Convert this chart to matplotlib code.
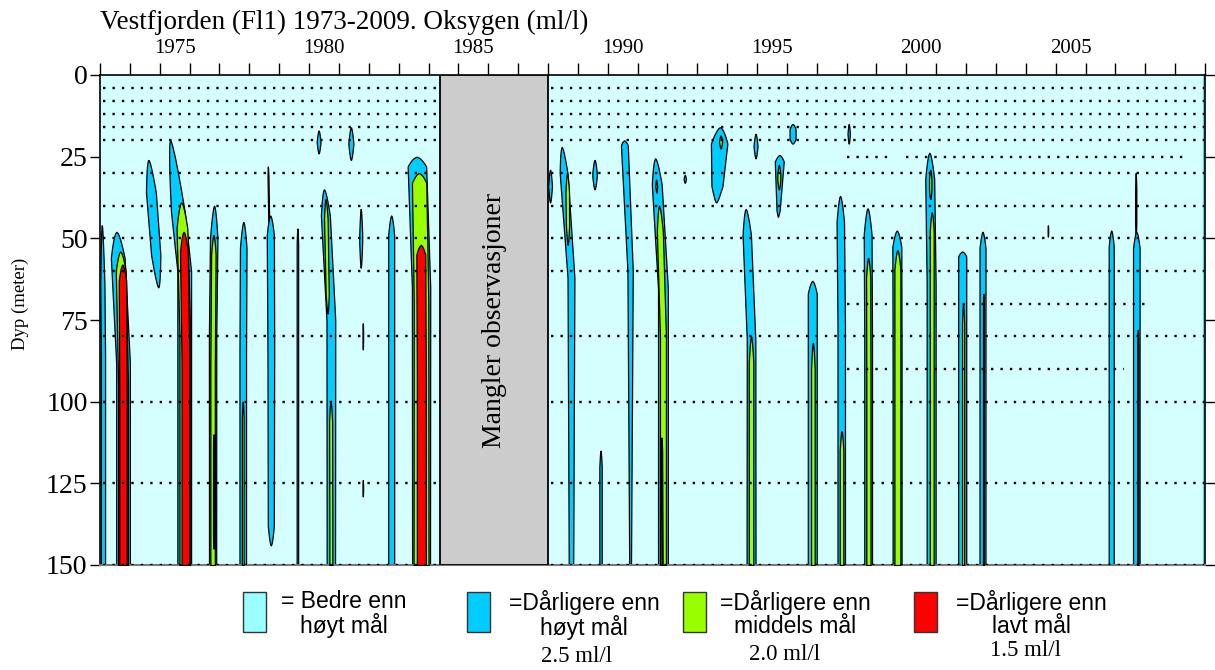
import matplotlib
matplotlib.use('Agg')
import matplotlib.pyplot as plt
import numpy as np
from matplotlib.patches import Rectangle

W, H = 1215, 670
SERIF = ['Liberation Serif', 'DejaVu Serif']
SANS = ['Liberation Sans', 'DejaVu Sans']

# ---------------- data ----------------
title = "Vestfjorden (Fl1) 1973-2009. Oksygen (ml/l)"
year_min, year_max = 1973.0, 2010.0
tick_years = list(range(1973, 2011))
label_years = [1975, 1980, 1985, 1990, 1995, 2000, 2005]
depth_ticks = [0, 25, 50, 75, 100, 125, 150]
depth_max = 150

gap_start, gap_end = 1984.4, 1988.0
gap_text = "Mangler observasjoner"

sample_depths = [4, 8, 12, 16, 20, 30, 40, 50, 60, 80, 100, 125, 150]
obs_periods = [(1973.0, 1984.4), (1988.0, 2010.0)]
extra_depths = [25, 70, 90]
extra_periods = [[(1998.0, 1999.4), (2000.0, 2009.4)],
                 [(1998.0, 1999.35), (2000.0, 2008.2)],
                 [(1998.0, 1999.35), (2000.0, 2007.3)]]

# low-oxygen events: (year top, depth top, year bottom, depth bottom, width mid, width bottom, taper m)
below_25 = [
    (1973.06, 46, 1973.10, 150, 0.14, 0.14, 18),
    (1973.55, 48, 1973.77, 150, 0.46, 0.46, 8),
    (1974.62, 26, 1974.95, 65, 0.33, 0.30, 10),
    (1975.35, 20, 1975.82, 150, 0.46, 0.46, 22),
    (1976.82, 40, 1976.77, 150, 0.25, 0.24, 10),
    (1977.80, 45, 1977.78, 150, 0.22, 0.22, 8),
    (1978.62, 28, 1978.65, 45, 0.03, 0.03, 3),
    (1978.70, 43, 1978.72, 144, 0.24, 0.20, 6),
    (1979.61, 47, 1979.61, 150, 0.05, 0.05, 5),
    (1980.50, 35, 1980.73, 150, 0.30, 0.28, 8),
    (1980.32, 17, 1980.32, 24, 0.13, 0.13, 4),
    (1981.40, 16, 1981.40, 26, 0.17, 0.17, 5),
    (1981.73, 41, 1981.73, 59, 0.10, 0.10, 8),
    (1981.80, 76, 1981.80, 84, 0.02, 0.02, 3),
    (1981.80, 124, 1981.80, 129, 0.02, 0.02, 2),
    (1982.75, 43, 1982.75, 150, 0.20, 0.20, 6),
    (1983.60, 25, 1983.75, 150, 0.62, 0.60, 3),
    (1988.07, 29, 1988.07, 39, 0.13, 0.13, 5),
    (1988.46, 22, 1988.77, 150, 0.26, 0.15, 8),
    (1989.56, 26, 1989.56, 35, 0.15, 0.15, 4),
    (1989.76, 115, 1989.76, 150, 0.08, 0.08, 5),
    (1990.55, 20, 1990.75, 150, 0.23, 0.06, 1.5),
    (1991.59, 25.5, 1991.85, 150, 0.33, 0.33, 8),
    (1992.58, 30.6, 1992.58, 33, 0.08, 0.08, 1.2),
    (1993.76, 16, 1993.63, 39, 0.55, 0.30, 5),
    (1994.95, 18, 1994.95, 25.5, 0.13, 0.13, 3.5),
    (1996.19, 15, 1996.19, 21, 0.20, 0.20, 1.5),
    (1995.75, 24.5, 1995.70, 43.4, 0.30, 0.08, 2),
    (1998.07, 15, 1998.07, 21, 0.08, 0.08, 3),
    (1994.62, 41, 1994.80, 150, 0.28, 0.30, 8),
    (1996.85, 63, 1996.85, 150, 0.30, 0.30, 4),
    (1997.78, 37, 1997.82, 150, 0.25, 0.25, 8),
    (1998.70, 40.8, 1998.72, 150, 0.26, 0.26, 8),
    (1999.68, 47.6, 1999.69, 150, 0.30, 0.30, 5),
    (2000.77, 23.8, 2000.83, 150, 0.30, 0.30, 8),
    (2001.87, 54, 2001.87, 150, 0.27, 0.27, 1.5),
    (2002.55, 48, 2002.55, 150, 0.20, 0.20, 5),
    (2004.74, 46, 2004.74, 49.5, 0.02, 0.02, 1.5),
    (2006.86, 47.6, 2006.86, 150, 0.17, 0.17, 5),
    (2007.68, 30, 2007.68, 50, 0.04, 0.04, 5),
    (2007.70, 48, 2007.70, 150, 0.22, 0.22, 5),
]
edge_strip = (2009.92, 2010.0)
below_20 = [
    (1973.68, 54, 1973.77, 150, 0.33, 0.33, 6),
    (1975.72, 39, 1975.84, 150, 0.36, 0.36, 8),
    (1976.80, 49, 1976.77, 150, 0.15, 0.15, 6),
    (1977.78, 100, 1977.78, 150, 0.06, 0.06, 5),
    (1980.55, 38, 1980.62, 73, 0.12, 0.10, 6),
    (1980.72, 100, 1980.73, 150, 0.10, 0.10, 6),
    (1983.68, 30, 1983.75, 150, 0.48, 0.50, 3),
    (1988.64, 30, 1988.66, 52, 0.12, 0.10, 6),
    (1991.62, 32, 1991.63, 36, 0.06, 0.06, 2),
    (1991.72, 40, 1991.85, 150, 0.20, 0.20, 8),
    (1993.78, 18.5, 1993.78, 22.5, 0.10, 0.10, 2),
    (1995.73, 27.5, 1995.73, 35, 0.10, 0.10, 3),
    (1994.80, 80, 1994.80, 150, 0.15, 0.15, 8),
    (1996.87, 82, 1996.87, 150, 0.12, 0.12, 8),
    (1997.83, 109, 1997.83, 150, 0.12, 0.12, 6),
    (1998.72, 56, 1998.73, 150, 0.14, 0.14, 6),
    (1999.70, 53.6, 1999.70, 150, 0.20, 0.20, 6),
    (2000.80, 29, 2000.80, 38, 0.08, 0.08, 3),
    (2000.85, 42, 2000.85, 150, 0.13, 0.13, 6),
    (2001.90, 70, 2001.90, 150, 0.07, 0.07, 6),
    (2002.58, 67, 2002.58, 150, 0.03, 0.03, 5),
    (2007.75, 78, 2007.75, 150, 0.04, 0.04, 5),
]
below_15 = [
    (1973.75, 58, 1973.77, 150, 0.25, 0.25, 5),
    (1975.80, 48, 1975.86, 150, 0.26, 0.26, 6),
    (1976.80, 110, 1976.80, 145, 0.03, 0.03, 4),
    (1983.74, 52, 1983.76, 150, 0.30, 0.30, 3),
    (1991.80, 111, 1991.82, 150, 0.04, 0.04, 4),
]

bg_color = '#d5ffff'
legend_colors = ['#99ffff', '#00ccff', '#99ff00', '#ff0000']
legend_texts = ["= Bedre enn\nhøyt mål", "=Dårligere enn\nhøyt mål",
                "=Dårligere enn\nmiddels mål", "=Dårligere enn\nlavt mål"]
legend_limits = ["", "2.5 ml/l", "2.0 ml/l", "1.5 ml/l"]

# ---------------- figure ----------------
fig = plt.figure(figsize=(W / 100, H / 100), dpi=100)
L, R, T, B = 100, 1205, 75, 565
ax = fig.add_axes([L / W, 1 - B / H, (R - L) / W, (B - T) / H])
ax.set_facecolor(bg_color)
ax.set_xlim(year_min, year_max)
ax.set_ylim(depth_max, 0)


def draw_event(ev, color, z):
    xt, dt, xb, db, wm, wb, tp = ev
    d = np.linspace(dt, db, 300)
    closed = db < depth_max
    span = db - dt
    lean = max(min(40.0, span), 1e-6)
    f = np.clip((d - dt) / lean, 0, 1)
    cx = xt + (xb - xt) * f
    tpe = min(tp, span / 2) if closed else tp
    w = wm + (wb - wm) * np.clip((d - dt - tpe) / max(span - tpe, 1e-6), 0, 1)
    p = np.clip((d - dt) / tpe, 0, 1) ** 0.6
    if closed:
        p = p * np.clip((db - d) / tpe, 0, 1) ** 0.6
    hw = w * p / 2
    ax.fill_betweenx(d, cx - hw, cx + hw, facecolor=color, edgecolor='black',
                     linewidth=0.9, zorder=z)


for ev in below_25:
    draw_event(ev, legend_colors[1], 2)
for ev in below_20:
    draw_event(ev, legend_colors[2], 3)
for ev in below_15:
    draw_event(ev, legend_colors[3], 4)
ax.axvspan(edge_strip[0], edge_strip[1], color='#55d0dd', linewidth=0, zorder=2)

# sampling rows
for dep in sample_depths:
    for a, b in obs_periods:
        ax.hlines(dep, a + 0.1, b - 0.05, colors='black', linewidth=1.7,
                  linestyles=[(0, (1.0, 3.0))], zorder=5)
for dep, periods in zip(extra_depths, extra_periods):
    for a, b in periods:
        ax.hlines(dep, a, b, colors='black', linewidth=1.7,
                  linestyles=[(0, (1.0, 3.0))], zorder=5)

# missing-data box
ax.add_patch(Rectangle((gap_start, 0), gap_end - gap_start, depth_max,
                       facecolor='#cccccc', edgecolor='black', linewidth=1.3, zorder=6))
ax.text((gap_start + gap_end) / 2, depth_max / 2, gap_text, rotation=90,
        ha='center', va='center', fontsize=20, family=SERIF, zorder=7)

# axes styling
ax.xaxis.tick_top()
ax.set_xticks(tick_years)
ax.set_xticklabels([])
ax.set_xticks([y + 0.5 for y in label_years], minor=True)
ax.set_xticklabels([str(y) for y in label_years], minor=True, family=SERIF, fontsize=15)
ax.tick_params(axis='x', which='major', direction='out', length=9, width=1,
               top=True, bottom=False, labeltop=False, labelbottom=False)
ax.tick_params(axis='x', which='minor', length=0, top=True, bottom=False,
               labeltop=True, labelbottom=False, pad=12)
ax.set_yticks(depth_ticks)
ax.set_yticklabels([str(d) for d in depth_ticks], family=SERIF, fontsize=20)
ax.tick_params(axis='y', direction='out', length=7, width=1, left=True, right=True, pad=2)
for s in ['top', 'left', 'right']:
    ax.spines[s].set_color('black')
    ax.spines[s].set_linewidth(1.2)
ax.spines['bottom'].set_color('#777777')
ax.spines['bottom'].set_linewidth(1.5)

fig.text(20 / W, 1 - 304 / H, "Dyp (meter)", rotation=90, ha='center', va='center',
         family=SERIF, fontsize=13.5)
fig.text(100 / W, 1 - 10 / H, title, ha='left', va='top', family=SERIF, fontsize=19.5)

# legend
box_x = [243, 467, 683, 914]
text_cx = [344, 584, 795, 1031]
lim_cx = [0, 577, 785, 1025]
lim_y = [0, 656, 655, 650]
for i in range(4):
    fig.patches.append(Rectangle((box_x[i] / W, 1 - 632 / H), 23 / W, 40 / H,
                                 transform=fig.transFigure, facecolor=legend_colors[i],
                                 edgecolor='#333333', linewidth=1.0))
    fig.text(text_cx[i] / W, 1 - 590 / H, legend_texts[i], ha='center', va='top',
             multialignment='center', family=SANS, fontsize=16.5, linespacing=1.0)
    if legend_limits[i]:
        fig.text(lim_cx[i] / W, 1 - lim_y[i] / H, legend_limits[i], ha='center',
                 va='center', family=SERIF, fontsize=16.5)

fig.savefig('out.png', dpi=100)
